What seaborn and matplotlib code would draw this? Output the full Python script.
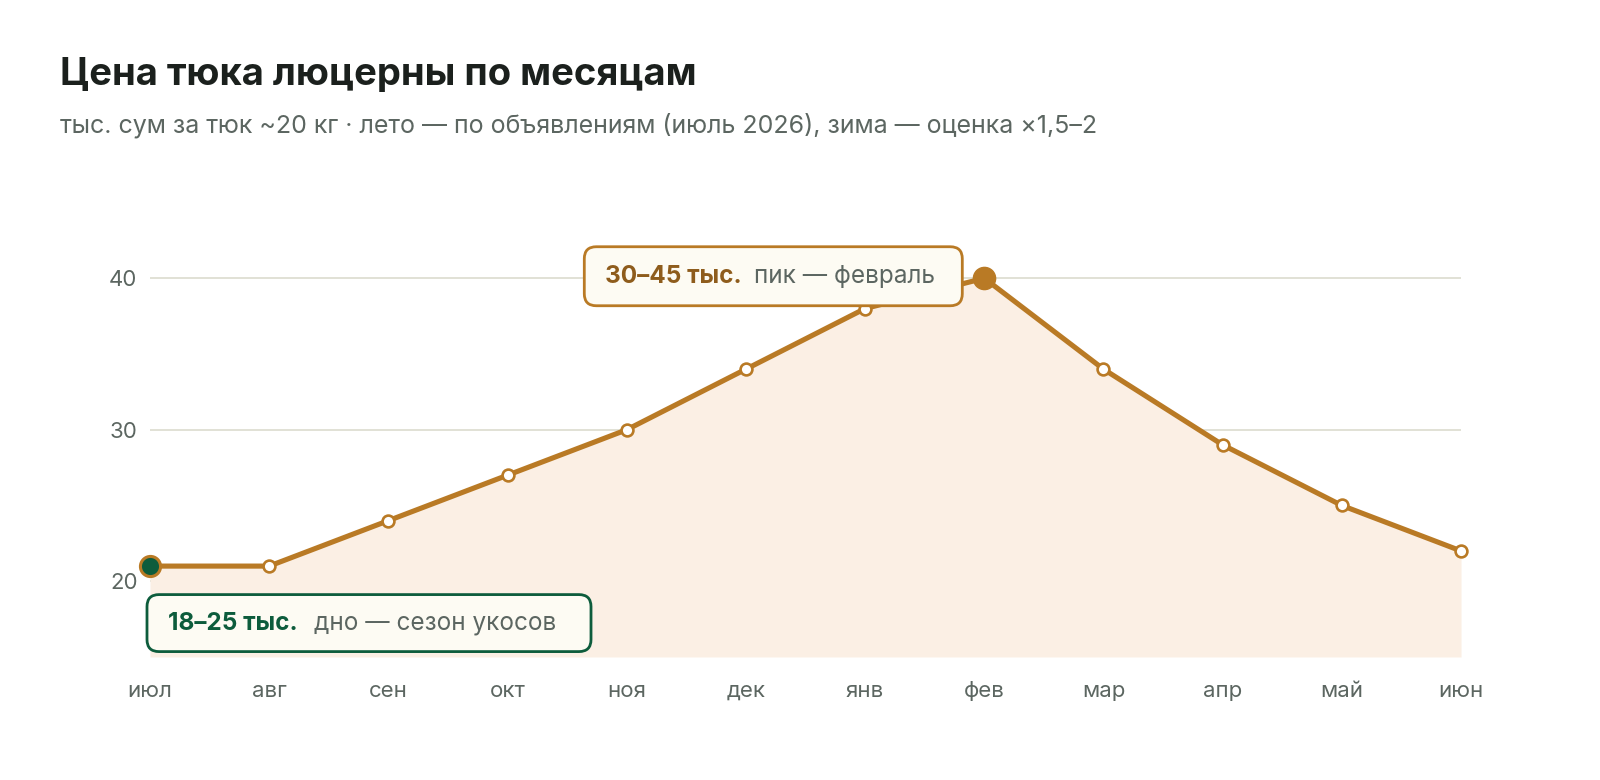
import matplotlib
matplotlib.use("Agg")
import matplotlib.pyplot as plt
from matplotlib.patches import FancyBboxPatch
from matplotlib.transforms import IdentityTransform
import seaborn as sns
import pandas as pd

months = ["июл", "авг", "сен", "окт", "ноя", "дек", "янв", "фев", "мар", "апр", "май", "июн"]
prices = [21, 21, 24, 27, 30, 34, 38, 40, 34, 29, 25, 22]
y_ticks = [20, 30, 40]

title = "Цена тюка люцерны по месяцам"
subtitle = "тыс. сум за тюк ~20 кг · лето — по объявлениям (июль 2026), зима — оценка ×1,5–2"
peak_bold, peak_text = "30–45 тыс.", "пик — февраль"
low_bold, low_text = "18–25 тыс.", "дно — сезон укосов"

BROWN = "#B97A25"
BROWN_DARK = "#8E5C1C"
GREEN = "#0D5C3C"
FILL = "#FBEFE4"
GRID = "#DCDCCE"
GREY = "#5C6661"
INK = "#1B201D"

sns.set_theme(style="white")
plt.rcParams["font.family"] = ["Inter", "DejaVu Sans"]

df = pd.DataFrame({"idx": range(len(months)), "month": months, "price": prices})

fig = plt.figure(figsize=(16, 7.8), dpi=100)
ax = fig.add_axes([0.09375, 0.1577, 0.8194, 0.5827])

ax.fill_between(df["idx"], prices, 15, color=FILL, lw=0, zorder=1)
sns.lineplot(data=df, x="idx", y="price", ax=ax, color=BROWN, lw=3.7,
             marker="o", markersize=8.5, markerfacecolor="white",
             markeredgecolor=BROWN, markeredgewidth=1.9, zorder=3, clip_on=False)

peak_i = prices.index(max(prices))
ax.plot(peak_i, prices[peak_i], "o", ms=16, color=BROWN, zorder=4, clip_on=False)
ax.plot(0, prices[0], "o", ms=14.5, mfc=GREEN, mec=BROWN, mew=2.2, zorder=4, clip_on=False)

ax.set_xlim(0, len(months) - 1)
ax.set_ylim(15, 45)
ax.set_yticks(y_ticks)
ax.set_xticks(range(len(months)))
ax.set_xticklabels(months)
ax.yaxis.grid(True, color=GRID, lw=1.2, zorder=0)
ax.xaxis.grid(False)
for s in ax.spines.values():
    s.set_visible(False)
ax.tick_params(axis="both", length=0, labelsize=16, labelcolor=GREY)
ax.tick_params(axis="x", pad=17)
ax.tick_params(axis="y", pad=9)
ax.set_xlabel("")
ax.set_ylabel("")

fig.text(60 / 1600, 1 - 75 / 780, title, fontsize=27.5, fontweight="bold", color=INK, va="center")
fig.text(60 / 1600, 1 - 125 / 780, subtitle, fontsize=18, color=GREY, va="center")

fig.canvas.draw()


def callout(anchor, left, width, dy, height, edge, bold_col, bold, rest, gap):
    px, py = ax.transData.transform(anchor)
    cy = py + dy
    box = FancyBboxPatch((px + left, cy - height / 2), width, height,
                         boxstyle="round,pad=0,rounding_size=12",
                         fc="#FDFBF3", ec=edge, lw=2, transform=IdentityTransform(),
                         zorder=5, clip_on=False)
    fig.add_artist(box)
    t1 = fig.text(px + left + 21, cy, bold, transform=IdentityTransform(), fontsize=17.5,
                  fontweight="bold", color=bold_col, va="center", zorder=6)
    fig.canvas.draw()
    bb = t1.get_window_extent()
    fig.text(bb.x1 + gap, cy, rest, transform=IdentityTransform(), fontsize=17.5,
             color=GREY, va="center", zorder=6)


callout((peak_i, prices[peak_i]), -400, 378, 2, 59, BROWN, BROWN_DARK, peak_bold, peak_text, 12)
callout((0, prices[0]), -3, 444, -57, 57, GREEN, GREEN, low_bold, low_text, 16)

fig.savefig("out.png", dpi=100)
